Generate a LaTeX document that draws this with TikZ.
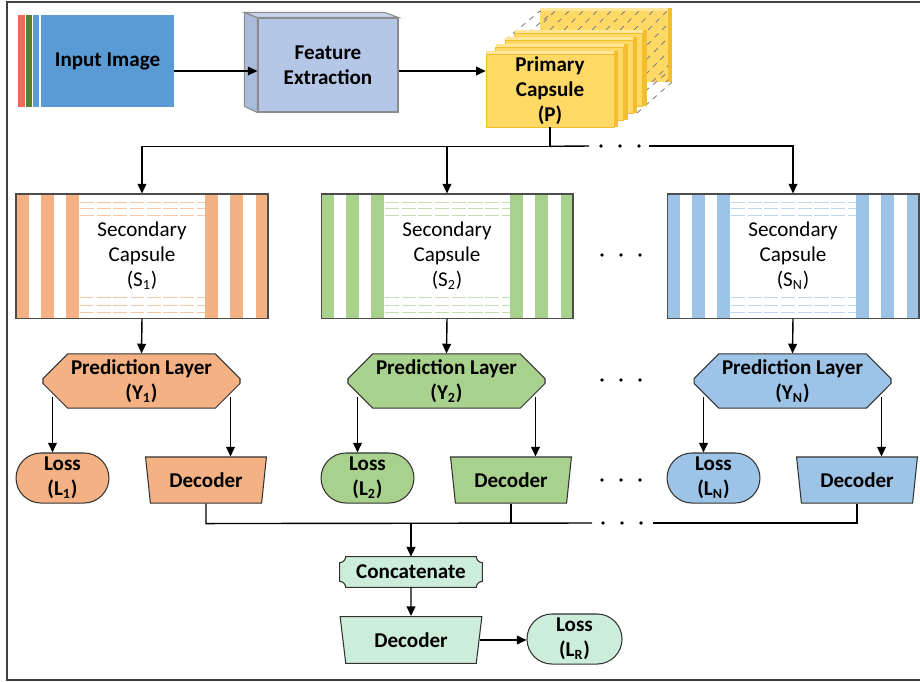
\documentclass[tikz,border=0pt]{standalone}
\usepackage{fontspec}
\setmainfont{Carlito}
\usetikzlibrary{arrows.meta,shapes.misc,shapes.geometric,backgrounds}
\definecolor{inblue}{HTML}{5B9BD5}
\definecolor{stripered}{HTML}{F4695A}
\definecolor{stripegreen}{HTML}{548235}
\definecolor{featblue}{HTML}{B4C7E7}
\definecolor{featside}{HTML}{A9BCDC}
\definecolor{feattop}{HTML}{C9D6EE}
\definecolor{capyellow}{HTML}{FFD966}
\definecolor{caplight}{HTML}{FFE699}
\definecolor{capdark}{HTML}{F2BE2E}
\definecolor{orangeA}{HTML}{F4B183}
\definecolor{greenA}{HTML}{A9D18E}
\definecolor{blueA}{HTML}{9DC3E6}
\definecolor{mint}{HTML}{CCEDDA}
\newcommand\labfont{\fontsize{12}{14.2}\selectfont\bfseries}
\begin{document}
\begin{tikzpicture}[x=0.02cm,y=-0.02cm,font=\fontsize{12}{14.2}\selectfont,
  arr/.style={-{Triangle[length=5.5pt,width=5pt]},line width=0.8pt},
  link/.style={line width=0.8pt},
  edge/.style={draw=black!80,line width=0.6pt},
  seccap/.style={draw=black!70,line width=0.6pt,minimum width=143.4pt,minimum height=70.6pt,align=center,inner sep=0pt},
  predbox/.style={chamfered rectangle,chamfered rectangle xsep=10.8pt,edge,minimum width=112.1pt,minimum height=28.5pt,inner sep=0pt,align=center,font=\labfont},
  lossbox/.style={rounded rectangle,edge,minimum width=52.9pt,minimum height=28.5pt,inner sep=0pt,align=center,font=\labfont},
  decbox/.style={trapezium,shape border rotate=180,trapezium angle=78,trapezium stretches=true,edge,minimum width=68.9pt,minimum height=26.2pt,inner sep=0pt,font=\labfont},
  sdash/.style={dash pattern=on 8pt off 1.5pt,line width=0.5pt},
  wire/.style={dashed,draw=black!50,line width=0.5pt}]
  \useasboundingbox (0,0) rectangle (920,681);
  \draw[black!75,line width=0.8pt] (922,2) -- (7,2) -- (7,680) -- (922,680);

  \fill[stripered] (18,15) rectangle (25,107);
  \fill[stripegreen] (26,15) rectangle (32,107);
  \fill[inblue] (33,15) rectangle (39,107);
  \node[fill=inblue,minimum width=75.7pt,minimum height=52.4pt,inner sep=0pt,font=\labfont] (input) at (107.5,61) {Input Image};

  \node[fill=featblue,draw=black!45,line width=0.6pt,minimum width=79.7pt,minimum height=53.5pt,inner sep=0pt,align=center,font=\labfont] (feat) at (328,65) {Feature\\Extraction};
  \filldraw[fill=featside,draw=black!45,line width=0.6pt] (feat.north west) -- ++(-13,-5) -- ++(0,94) -- (feat.south west) -- cycle;
  \filldraw[fill=feattop,draw=black!45,line width=0.6pt] (feat.north west) -- ++(-13,-5) -- ++(140,0) -- (feat.north east) -- cycle;

  \fill[capyellow] (540,11) rectangle (668,82);
  \fill[caplight] (540,8) rectangle (668,11);
  \fill[capdark] (668,8) rectangle (672,82);
  \begin{scope}
    \clip (540,11) rectangle (668,82);
    \foreach \h in {0,...,15}
      \draw[wire] (470+\h*14,82) -- ++(75,-75);
  \end{scope}
  \draw[wire] (505,40) -- (540,11);
  \draw[wire] (520,40) -- (548,16);
  \draw[wire] (637,113) -- (672,82);
  \draw[wire] (637,98) -- (668,72);
  \foreach \k in {3,2,1,0} {
    \fill[caplight] (486+9.5*\k,51-7*\k) rectangle ++(128,3);
    \filldraw[fill=capyellow,draw=capdark,line width=0.3pt] (486+9.5*\k,54-7*\k) rectangle ++(128,73);
    \fill[capdark] (614+9.5*\k,51-7*\k) rectangle ++(4,76);
  }
  \node[minimum width=72.8pt,minimum height=41.5pt,inner sep=0pt,align=center,font=\labfont] (prim) at (550,90.5) {Primary\\Capsule\\(P)};

  \draw[arr] (input.east) ++(0,10) coordinate (a1) -- (a1 -| feat.west);
  \draw[arr] (feat.east) ++(0,6) coordinate (a2) -- (a2 -| prim.west);

  \foreach \x/\c/\n in {16/orangeA/1,321/greenA/2,667/blueA/N} {
    \foreach \s in {0,25,50,189,214,240}
      \fill[\c] (\x+\s,194) rectangle ++(12.5,124);
    \foreach \y in {202,208,215,297,305,312}
      \draw[sdash,\c!70] (\x+64,\y) -- (\x+189,\y);
    \node[seccap] (sec\n) at (\x+126,256) {Secondary\\Capsule\\(S\textsubscript{\n})};
    \node[predbox,fill=\c] (pred\n) at (\x+125.5,381) {Prediction Layer\\(Y\textsubscript{\n})};
    \node[lossbox,fill=\c] (loss\n) at (\x+46.5,478) {Loss\\(L\textsubscript{\n})};
    \node[decbox,fill=\c] (dec\n) at (\x+190,480) {Decoder};
    \draw[arr] (sec\n.south) -- (pred\n.north);
    \draw[arr] ([shift={(10,16)}]pred\n.west) coordinate (ql) -- (ql |- loss\n.north);
    \draw[arr] ([shift={(-10,16)}]pred\n.east) coordinate (qr) -- (qr |- dec\n.north);
  }

  \draw[arr] (prim.south) -- ++(0,19) coordinate (bus) -| (sec1.north);
  \draw[arr] (sec2.north |- bus) -- (sec2.north);
  \draw[link] (bus) -- (589,146);
  \draw[arr] (649,146) -| (secN.north);

  \draw[link] (dec1.south) -- ++(0,20) coordinate (bus2) -- (592,523);
  \draw[link] (dec2.south) -- (dec2.south |- bus2);
  \draw[link] (653,523) -| (decN.south);

  \foreach \x in {602,621,640} {
    \fill (\x-1,146) circle (1.1pt);
    \fill (\x,255) circle (1.1pt);
    \fill (\x,380) circle (1.1pt);
    \fill (\x,480) circle (1.1pt);
    \fill (\x+1,523) circle (1.1pt);
  }

  \node[minimum width=80.8pt,minimum height=17.1pt,inner sep=0pt,font=\labfont] (cat) at (411,572) {Concatenate};
  \begin{pgfonlayer}{background}
    \filldraw[fill=mint,edge] ([yshift=-3.4pt]cat.north west) arc[start angle=-90,end angle=0,radius=3.4pt]
      -- ([xshift=-3.4pt]cat.north east) arc[start angle=180,end angle=270,radius=3.4pt]
      -- ([yshift=3.4pt]cat.south east) arc[start angle=90,end angle=180,radius=3.4pt]
      -- ([xshift=3.4pt]cat.south west) arc[start angle=0,end angle=90,radius=3.4pt] -- cycle;
  \end{pgfonlayer}
  \node[decbox,fill=mint,minimum width=80.8pt,minimum height=26.7pt] (decR) at (411,640) {Decoder};
  \node[lossbox,fill=mint,minimum width=54.1pt] (lossR) at (574.5,639) {Loss\\(L\textsubscript{R})};

  \draw[arr] (cat.north |- bus2) -- (cat.north);
  \draw[arr] (cat.south) -- (decR.north);
  \draw[arr] (decR.east) -- (decR.east -| lossR.west);
\end{tikzpicture}
\end{document}
